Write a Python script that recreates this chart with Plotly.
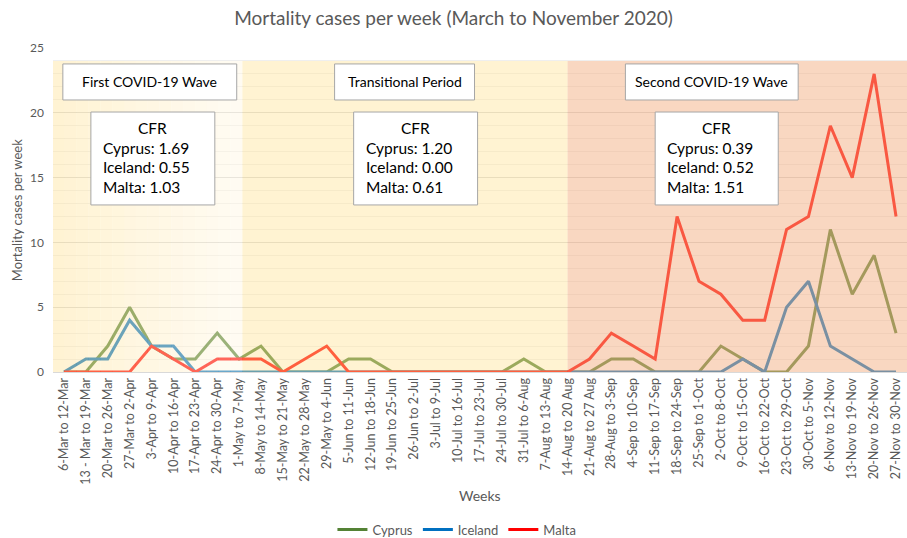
import plotly.graph_objects as go

weeks = [
    "6-Mar to 12-Mar", "13 - Mar to 19-Mar", "20-Mar to 26-Mar", "27-Mar to 2-Apr",
    "3-Apr to 9-Apr", "10-Apr to 16-Apr", "17-Apr to 23-Apr", "24-Apr to 30-Apr",
    "1-May to 7-May", "8-May to 14-May", "15-May to 21-May", "22-May to 28-May",
    "29-May to 4-Jun", "5-Jun to 11-Jun", "12-Jun to 18-Jun", "19-Jun to 25-Jun",
    "26-Jun to 2-Jul", "3-Jul to 9-Jul", "10-Jul to 16-Jul", "17-Jul to 23-Jul",
    "24-Jul to 30-Jul", "31-Jul to 6-Aug", "7-Aug to 13-Aug", "14-Aug to 20 Aug",
    "21-Aug to 27 Aug", "28-Aug to 3-Sep", "4-Sep to 10-Sep", "11-Sep to 17-Sep",
    "18-Sep to 24-Sep", "25-Sep to 1-Oct", "2-Oct to 8-Oct", "9-Oct to 15-Oct",
    "16-Oct to 22-Oct", "23-Oct to 29-Oct", "30-Oct to 5-Nov", "6-Nov to 12-Nov",
    "13-Nov to 19-Nov", "20-Nov to 26-Nov", "27-Nov to 30-Nov",
]
cyprus = [0, 0, 2, 5, 2, 1, 1, 3, 1, 2,
          0, 0, 0, 1, 1, 0, 0, 0, 0, 0,
          0, 1, 0, 0, 0, 1, 1, 0, 0, 0,
          2, 1, 0, 0, 2, 11, 6, 9, 3]
iceland = [0, 1, 1, 4, 2, 2, 0, 0, 0, 0,
           0, 0, 0, 0, 0, 0, 0, 0, 0, 0,
           0, 0, 0, 0, 0, 0, 0, 0, 0, 0,
           0, 1, 0, 5, 7, 2, 1, 0, 0]
malta = [0, 0, 0, 0, 2, 1, 0, 1, 1, 1,
         0, 1, 2, 0, 0, 0, 0, 0, 0, 0,
         0, 0, 0, 0, 1, 3, 2, 1, 12, 7,
         6, 4, 4, 11, 12, 19, 15, 23, 12]

series_names = ["Cyprus", "Iceland", "Malta"]
series_colors = ["#548235", "#0070C0", "#FF0000"]

period_titles = ["First COVID-19 Wave", "Transitional Period", "Second COVID-19 Wave"]
cfr_lines = [
    ["Cyprus: 1.69", "Iceland: 0.55", "Malta: 1.03"],
    ["Cyprus: 1.20", "Iceland: 0.00", "Malta: 0.61"],
    ["Cyprus: 0.39", "Iceland: 0.52", "Malta: 1.51"],
]

FONT = "Lato"
GREY = "#595959"

fig = go.Figure()
for name, vals, col in zip(series_names, [cyprus, iceland, malta], series_colors):
    fig.add_trace(go.Scatter(x=weeks, y=vals, mode="lines", name=name,
                             line=dict(color=col, width=3)))

shapes = []
# Region 1: stepped gradient overlay (semi-transparent, drawn above the lines)
r1_x0, r1_x1 = -0.5, 8.15
n = 16
c_left = (255, 226, 150)
c_right = (255, 246, 224)
for i in range(n):
    t = i / (n - 1)
    c = tuple(round(c_left[k] + (c_right[k] - c_left[k]) * t) for k in range(3))
    xa = r1_x0 + (r1_x1 - r1_x0) * i / n
    xb = r1_x0 + (r1_x1 - r1_x0) * (i + 1) / n
    shapes.append(dict(type="rect", xref="x", yref="y", x0=xa, x1=xb, y0=-0.1, y1=24,
                       fillcolor=f"rgba({c[0]},{c[1]},{c[2]},0.42)", line=dict(width=0), layer="above"))
shapes.append(dict(type="rect", xref="x", yref="y", x0=8.15, x1=23.0, y0=-0.1, y1=24,
                   fillcolor="rgba(255,226,148,0.42)", line=dict(width=0), layer="above"))
shapes.append(dict(type="rect", xref="x", yref="y", x0=23.0, x1=38.5, y0=-0.1, y1=24,
                   fillcolor="rgba(244,176,132,0.5)", line=dict(width=0), layer="above"))

# text boxes (pixel-derived positions in data units)
title_boxes = [(-0.05, 7.89), (12.36, 18.75), (25.64, 33.53)]
cfr_boxes = [(1.23, 6.89), (13.23, 18.89), (27.0, 32.62)]
for (x0, x1) in title_boxes:
    shapes.append(dict(type="rect", xref="x", yref="y", x0=x0, x1=x1, y0=20.99, y1=23.77,
                       fillcolor="white", line=dict(color="#A6A6A6", width=1), layer="above"))
for (x0, x1) in cfr_boxes:
    shapes.append(dict(type="rect", xref="x", yref="y", x0=x0, x1=x1, y0=12.89, y1=20.06,
                       fillcolor="white", line=dict(color="#A6A6A6", width=1), layer="above"))

annotations = []
for (x0, x1), t in zip(title_boxes, period_titles):
    annotations.append(dict(x=(x0 + x1) / 2, y=22.38, xref="x", yref="y", text=t,
                            showarrow=False, font=dict(family=FONT, size=14, color="black")))
line_ys = [17.28, 15.82, 14.27]
for (x0, x1), lines in zip(cfr_boxes, cfr_lines):
    annotations.append(dict(x=(x0 + x1) / 2, y=18.83, xref="x", yref="y", text="CFR",
                            showarrow=False, font=dict(family=FONT, size=15.5, color="black")))
    for ly, txt in zip(line_ys, lines):
        annotations.append(dict(x=x0 + 0.45, y=ly, xref="x", yref="y", text=txt,
                                showarrow=False, xanchor="left", yanchor="middle", align="left",
                                font=dict(family=FONT, size=15.5, color="black")))

annotations.append(dict(x=-0.042, y=0.5, xref="paper", yref="paper", text="Mortality cases per week",
                        textangle=-90, showarrow=False, xanchor="center", yanchor="middle",
                        font=dict(family=FONT, size=13, color=GREY)))
annotations.append(dict(x=0.5, y=-0.38, xref="paper", yref="paper", text="Weeks",
                        showarrow=False, xanchor="center", yanchor="middle",
                        font=dict(family=FONT, size=14, color=GREY)))

fig.update_layout(
    width=907, height=538,
    margin=dict(l=53, r=0, t=48, b=166, autoexpand=False),
    paper_bgcolor="white", plot_bgcolor="white",
    title=dict(text="Mortality cases per week (March to November 2020)", x=0.5, xanchor="center",
               y=0.965, yanchor="middle", font=dict(family=FONT, size=19, color=GREY)),
    font=dict(family=FONT, color=GREY),
    shapes=shapes,
    annotations=annotations,
    showlegend=True,
    legend=dict(orientation="h", x=0.473, xanchor="center", y=-0.44, yanchor="top",
                font=dict(family=FONT, size=13, color=GREY)),
    xaxis=dict(type="category", range=[-0.5, 38.5], tickangle=-90, showgrid=False,
               showline=True, linecolor="#D9D9D9", ticks="", automargin=False,
               tickfont=dict(family=FONT, size=12.5, color=GREY)),
    yaxis=dict(range=[0, 25], dtick=5, showgrid=True, gridcolor="#D9D9D9", zeroline=False,
               minor=dict(dtick=1, showgrid=True, gridcolor="#EFEFEF"), automargin=False,
               ticks="", tickfont=dict(family=FONT, size=12, color=GREY), ticklabelstandoff=8),
)

fig.write_html("out.html", config={"displayModeBar": False},
               post_script="document.body.style.margin='0px';")
